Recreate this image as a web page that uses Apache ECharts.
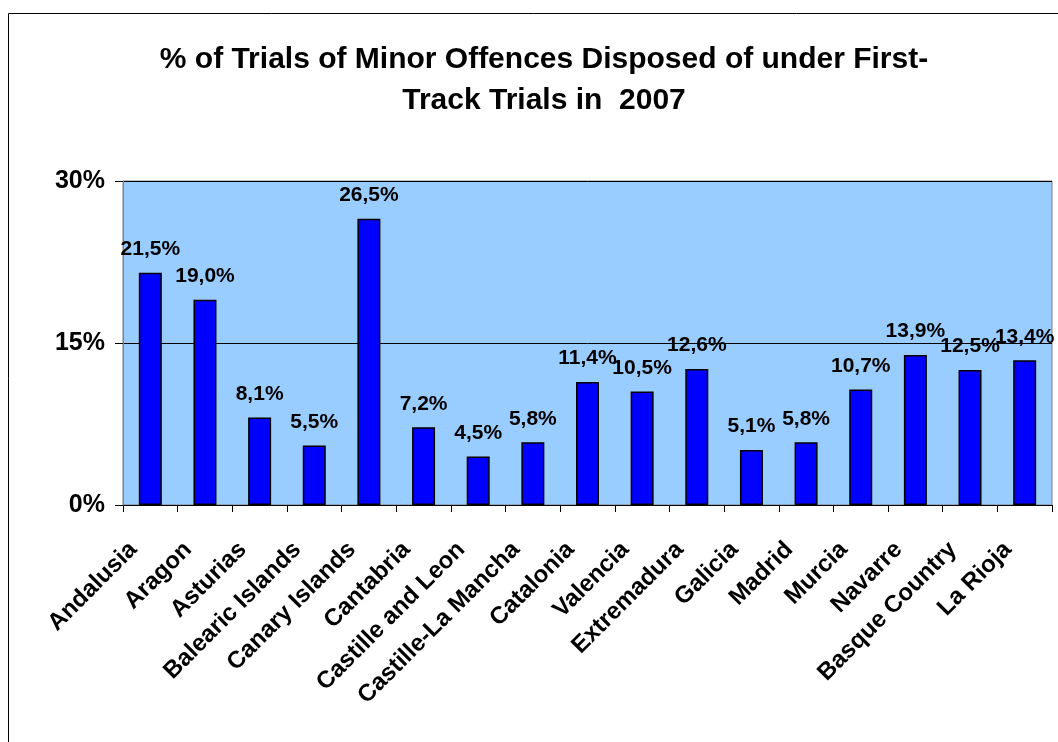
<!DOCTYPE html>
<html>
<head>
<meta charset="utf-8">
<script src="https://cdn.jsdelivr.net/npm/echarts@6/dist/echarts.min.js"></script>
<style>
    html, body { margin: 0; padding: 0; background: #fff; }
    #chart { width: 1058px; height: 742px; }
</style>
</head>
<body>
<div id="chart"></div>
<script>
const regions = ['Andalusia', 'Aragon', 'Asturias', 'Balearic Islands', 'Canary Islands', 'Cantabria',
    'Castille and Leon', 'Castille-La Mancha', 'Catalonia', 'Valencia', 'Extremadura', 'Galicia',
    'Madrid', 'Murcia', 'Navarre', 'Basque Country', 'La Rioja']
const shares = [21.5, 19.0, 8.1, 5.5, 26.5, 7.2, 4.5, 5.8, 11.4, 10.5, 12.6, 5.1, 5.8, 10.7, 13.9, 12.5, 13.4]
const yTicks = [0, 15, 30]

const font = 'Arial, "Liberation Sans", sans-serif'
const chart = echarts.init(document.getElementById('chart'))

chart.setOption({
    animation: false,
    title: {
        text: '% of Trials of Minor Offences Disposed of under First-\nTrack Trials in  2007',
        left: 539,
        top: 34,
        textAlign: 'center',
        textStyle: {
            fontFamily: font,
            fontWeight: 'bold',
            fontSize: 30,
            lineHeight: 41,
            color: '#000'
        }
    },
    graphic: [{
        type: 'rect',
        shape: { x: 8.5, y: 13.5, width: 1100, height: 800 },
        style: { fill: 'none', stroke: '#000', lineWidth: 1 },
        silent: true
    }],
    grid: {
        left: 123,
        right: 6,
        top: 181,
        bottom: 237,
        show: true,
        backgroundColor: '#99CCFF',
        borderColor: '#808080',
        borderWidth: 1
    },
    xAxis: {
        type: 'category',
        data: regions,
        axisLine: { lineStyle: { color: '#000' } },
        axisTick: { show: true, length: 7, lineStyle: { color: '#000' } },
        axisLabel: {
            rotate: 45,
            interval: 0,
            margin: 24,
            padding: [0, 24, 0, 0],
            fontFamily: font,
            fontWeight: 'bold',
            fontSize: 24,
            color: '#000'
        }
    },
    yAxis: {
        type: 'value',
        min: yTicks[0],
        max: yTicks[yTicks.length - 1],
        interval: yTicks[1] - yTicks[0],
        axisLine: { show: true, lineStyle: { color: '#808080' } },
        axisTick: { show: true, length: 8, lineStyle: { color: '#000' } },
        splitLine: { show: true, lineStyle: { color: '#000', width: 1 } },
        axisLabel: {
            formatter: '{value}%',
            margin: 18,
            fontFamily: font,
            fontWeight: 'bold',
            fontSize: 25,
            color: '#000'
        }
    },
    series: [{
        type: 'bar',
        data: shares,
        barWidth: 23,
        itemStyle: {
            color: '#0000FF',
            borderColor: '#000',
            borderWidth: 1.5
        },
        label: {
            show: true,
            position: 'top',
            distance: 13,
            formatter: (p) => p.value.toFixed(1).replace('.', ',') + '%',
            fontFamily: font,
            fontWeight: 'bold',
            fontSize: 21,
            color: '#000'
        }
    }]
})
</script>
</body>
</html>
